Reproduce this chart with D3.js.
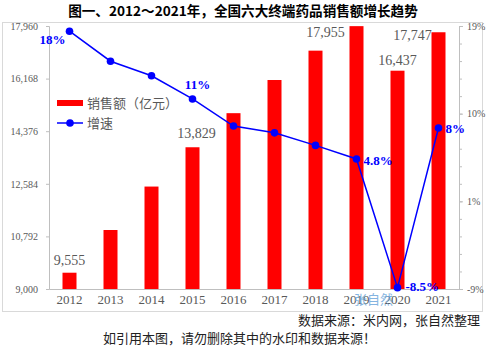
<!DOCTYPE html>
<html><head><meta charset="utf-8">
<script src="https://cdn.jsdelivr.net/npm/d3@7"></script>
<style>body{margin:0;background:#fff}svg{display:block}</style>
</head><body>
<script>
const years = ["2012","2013","2014","2015","2016","2017","2018","2019","2020","2021"];
const sales = [9555, 11010, 12490, 13829, 14990, 16120, 17120, 17955, 16437, 17747];
const growth = [18, 14.9, 13.4, 11.0, 8.2, 7.5, 6.2, 4.8, -8.5, 8.0];
const leftTicks = [9000, 10792, 12584, 14376, 16168, 17960];
const rightTickLabels = ["-9%", "1%", "10%", "19%"];
const salesLabelIdx = [0, 3, 7, 8, 9];
const growthLabelIdx = [0, 3, 7, 8, 9];
const growthLabels = ["18%", "", "", "11%", "", "", "", "4.8%", "-8.5%", "8%"];

const W = 487, H = 346;
const svg = d3.select("body").append("svg").attr("width", W).attr("height", H);
const serif = "'Liberation Serif','DejaVu Serif',serif";
const cjk = "'Noto Sans CJK SC','Noto Sans',sans-serif";

// frame
svg.append("rect").attr("x", 2.5).attr("y", 22.5).attr("width", 480).attr("height", 289)
  .attr("fill", "none").attr("stroke", "#d9d9d9");

// title
svg.append("text").attr("x", 243).attr("y", 16).attr("text-anchor", "middle")
  .attr("font-family", cjk).attr("font-weight", "bold").attr("font-size", 13.6)
  .attr("fill", "#000").text("图一、2012～2021年，全国六大终端药品销售额增长趋势");

const x0 = 49, x1 = 459, yTop = 26, yBot = 289;
const x = d3.scaleBand().domain(years).range([x0, x1]).padding(0);
const y = d3.scaleLinear().domain([9000, 17960]).range([yBot, yTop]);
const y2 = d3.scaleLinear().domain([-8.64, 18.54]).range([yBot, yTop]);
const bw = 14;

// bars
svg.append("g").selectAll("rect").data(sales).join("rect")
  .attr("x", (d, i) => x(years[i]) + x.bandwidth() / 2 - bw / 2)
  .attr("y", d => y(d)).attr("width", bw).attr("height", d => yBot - y(d))
  .attr("fill", "#ff0000");

// left axis
const gL = svg.append("g").attr("transform", `translate(${x0},0)`)
  .call(d3.axisLeft(y).tickValues(leftTicks).tickSize(3).tickPadding(8).tickFormat(d3.format(",")));
gL.select(".domain").attr("stroke", "#bfbfbf");
gL.selectAll(".tick line").attr("stroke", "#bfbfbf");
gL.selectAll(".tick text").attr("font-family", serif).attr("font-size", 10).attr("fill", "#595959");

// right axis
const d0 = y2.domain()[0], d1 = y2.domain()[1];
const major = d3.range(4).map(i => d0 + (d1 - d0) * i / 3);
const minor = d3.range(16).map(i => d0 + (d1 - d0) * i / 15);
const gR = svg.append("g").attr("transform", `translate(${x1},0)`);
gR.call(d3.axisRight(y2).tickValues(minor).tickSize(3).tickFormat(""));
gR.append("g").call(d3.axisRight(y2).tickValues(major).tickSize(4).tickPadding(4)
  .tickFormat((d, i) => rightTickLabels[i]));
gR.selectAll(".domain").attr("stroke", "#bfbfbf");
gR.selectAll(".tick line").attr("stroke", "#bfbfbf");
gR.selectAll(".tick text").attr("font-family", serif).attr("font-size", 10).attr("fill", "#595959");

// x axis
const gX = svg.append("g").attr("transform", `translate(0,${yBot})`)
  .call(d3.axisBottom(x).tickSize(0).tickPadding(6));
gX.select(".domain").attr("stroke", "#bfbfbf");
gX.selectAll(".tick text").attr("font-family", serif).attr("font-size", 13).attr("fill", "#595959");

// watermark
svg.append("text").attr("x", 354).attr("y", 304).attr("font-family", cjk).attr("font-size", 13)
  .attr("fill", "#6fa8dc").attr("opacity", 0.85).text("张自然");

// line
const line = d3.line().x((d, i) => x(years[i]) + x.bandwidth() / 2).y(d => y2(d));
svg.append("path").datum(growth).attr("d", line).attr("fill", "none")
  .attr("stroke", "#0000ff").attr("stroke-width", 1.5);
svg.append("g").selectAll("circle").data(growth).join("circle")
  .attr("cx", (d, i) => x(years[i]) + x.bandwidth() / 2).attr("cy", d => y2(d))
  .attr("r", 3.8).attr("fill", "#0000ff");

// sales labels
const salesOff = {0: [0, -8], 3: [4, -9], 7: [-31, 11], 8: [0, -6], 9: [-26, 8]};
svg.append("g").selectAll("text").data(salesLabelIdx).join("text")
  .attr("x", i => x(years[i]) + x.bandwidth() / 2 + salesOff[i][0])
  .attr("y", i => y(sales[i]) + salesOff[i][1])
  .attr("text-anchor", "middle").attr("font-family", serif).attr("font-size", 14)
  .attr("fill", "#595959").text(i => d3.format(",")(sales[i]));

// growth labels
const gOff = {0: [-4, 13, "end"], 3: [5, -10, "middle"], 7: [7, 6, "start"], 8: [8, 3, "start"], 9: [7, 5, "start"]};
svg.append("g").selectAll("text").data(growthLabelIdx).join("text")
  .attr("x", i => x(years[i]) + x.bandwidth() / 2 + gOff[i][0])
  .attr("y", i => y2(growth[i]) + gOff[i][1])
  .attr("text-anchor", i => gOff[i][2]).attr("font-family", serif).attr("font-weight", "bold")
  .attr("font-size", 13).attr("fill", "#0000ff").text(i => growthLabels[i]);

// legend
const lg = svg.append("g");
lg.append("rect").attr("x", 57).attr("y", 100).attr("width", 26).attr("height", 6).attr("fill", "#ff0000");
lg.append("text").attr("x", 87).attr("y", 108).attr("font-family", cjk).attr("font-size", 13)
  .attr("fill", "#595959").text("销售额（亿元）");
lg.append("line").attr("x1", 57).attr("x2", 83).attr("y1", 123).attr("y2", 123)
  .attr("stroke", "#0000ff").attr("stroke-width", 1.5);
lg.append("circle").attr("cx", 70).attr("cy", 123).attr("r", 3.8).attr("fill", "#0000ff");
lg.append("text").attr("x", 87).attr("y", 128).attr("font-family", cjk).attr("font-size", 13)
  .attr("fill", "#595959").text("增速");

// footer
svg.append("text").attr("x", 480).attr("y", 325).attr("text-anchor", "end").attr("font-family", cjk)
  .attr("font-size", 13).attr("fill", "#222").text("数据来源：米内网，张自然整理");
svg.append("text").attr("x", 103).attr("y", 343).attr("font-family", cjk)
  .attr("font-size", 13).attr("fill", "#222").text("如引用本图，请勿删除其中的水印和数据来源！");
</script>
</body></html>
